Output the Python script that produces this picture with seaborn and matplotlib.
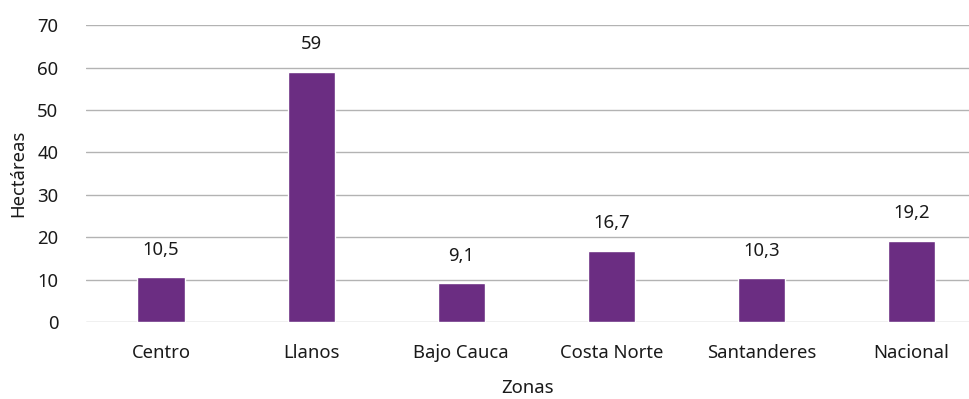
import matplotlib
matplotlib.use("Agg")
import matplotlib.pyplot as plt
import seaborn as sns
import pandas as pd

zonas = ["Centro", "Llanos", "Bajo Cauca", "Costa Norte", "Santanderes", "Nacional"]
hectareas = [10.5, 59, 9.1, 16.7, 10.3, 19.2]
y_ticks = [0, 10, 20, 30, 40, 50, 60, 70]

sns.set_theme(style="white")
plt.rcParams["font.family"] = ["Noto Sans", "DejaVu Sans"]

df = pd.DataFrame({"Zonas": zonas, "Hectáreas": hectareas})

fig = plt.figure(figsize=(9.7, 3.99), dpi=100)
ax = fig.add_axes([0.0887, 0.193, 0.9113, 0.744])

sns.barplot(data=df, x="Zonas", y="Hectáreas", color="#6B2D82", width=0.315,
            saturation=1, ax=ax, zorder=3)

ax.set_xlim(-0.5, 5.39)
ax.set_ylim(0, 70)
ax.set_yticks(y_ticks)
ax.grid(axis="y", color="#B3B3B3", linewidth=1.0, zorder=0)
ax.set_axisbelow(True)
for s in ax.spines.values():
    s.set_visible(False)

fs = 13.3
ax.tick_params(axis="x", length=0, pad=16, labelsize=fs, colors="#1a1a1a")
ax.tick_params(axis="y", length=0, pad=20, labelsize=fs, colors="#1a1a1a")
ax.set_xlabel("Zonas", fontsize=fs, color="#1a1a1a", labelpad=12)
ax.set_ylabel("Hectáreas", fontsize=fs, color="#1a1a1a", labelpad=7)

for i, v in enumerate(hectareas):
    txt = f"{v:g}".replace(".", ",")
    ax.annotate(txt, (i, v), xytext=(0, 20), textcoords="offset points",
                ha="center", va="center", fontsize=fs, color="#1a1a1a")

fig.savefig("out.png", dpi=100)
